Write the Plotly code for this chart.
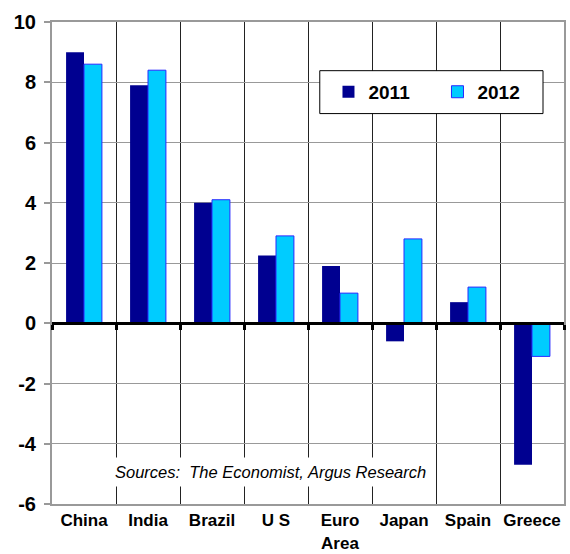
import plotly.graph_objects as go

categories = ["China", "India", "Brazil", "U S", "Euro<br>Area", "Japan", "Spain", "Greece"]
values_2011 = [9.0, 7.9, 4.0, 2.25, 1.9, -0.6, 0.7, -4.7]
values_2012 = [8.6, 8.4, 4.1, 2.9, 1.0, 2.8, 1.2, -1.1]
y_ticks = [-6, -4, -2, 0, 2, 4, 6, 8, 10]
y_tick_labels = ["-6", "-4", "-2", "0", "2", "4", "6", "8", "10"]
source_text = "<i>Sources:  The Economist, Argus Research</i>"

FONT = "Liberation Sans, Arial, Helvetica, sans-serif"

fig = go.Figure()
fig.add_trace(go.Bar(name="2011", x=categories, y=values_2011,
                     marker=dict(color="#000090", line=dict(color="#000090", width=0))))
fig.add_trace(go.Bar(name="2012", x=categories, y=values_2012,
                     marker=dict(color="#00CCFF", line=dict(color="#2828FF", width=1))))
# invisible trace to carry the zero-crossing category axis
fig.add_trace(go.Bar(x=categories, y=[0] * len(categories), xaxis="x2", showlegend=False,
                     marker=dict(color="rgba(0,0,0,0)"), hoverinfo="skip"))

fig.update_layout(
    width=570, height=554,
    margin=dict(l=52, r=6, t=22, b=50, autoexpand=False),
    paper_bgcolor="white", plot_bgcolor="white",
    barmode="group", bargap=0.44, bargroupgap=0,
    font=dict(family=FONT, color="black"),
    showlegend=True,
    legend=dict(orientation="h", x=0.54, y=0.855, xanchor="left", yanchor="middle",
                bgcolor="rgba(0,0,0,0)", borderwidth=0, entrywidth=64, entrywidthmode="pixels",
                font=dict(size=19, family=FONT, color="black", weight="bold"), itemwidth=30),
    xaxis=dict(type="category", tickson="boundaries", showgrid=True, gridcolor="#222222", gridwidth=1,
               ticks="", showline=True, linecolor="#999999", linewidth=2, mirror=True, tickangle=0,
               ticklabelstandoff=0,
               tickfont=dict(size=17, family=FONT, color="black", weight="bold"),
               zeroline=False),
    xaxis2=dict(type="category", overlaying="x", matches="x", anchor="free", position=0.375,
                tickson="boundaries", showgrid=False, showticklabels=False, ticks="outside",
                ticklen=5, tickwidth=3, tickcolor="black", showline=True, linecolor="black", linewidth=3),
    yaxis=dict(range=[-6, 10], tickvals=y_ticks, ticktext=y_tick_labels,
               showgrid=True, gridcolor="#999999", gridwidth=1.2,
               zeroline=True, zerolinecolor="black", zerolinewidth=3,
               showline=True, linecolor="#999999", linewidth=2, mirror=True,
               ticks="outside", ticklen=6, tickcolor="#999999", tickwidth=2,
               ticklabelstandoff=4,
               tickfont=dict(size=20, family=FONT, color="black", weight="bold")),
    shapes=[dict(type="rect", xref="paper", yref="paper", x0=0.523, x1=0.959, y0=0.810, y1=0.899,
                 fillcolor="white", line=dict(color="black", width=1), layer="above")],
    annotations=[dict(text=source_text, xref="paper", yref="y", x=0.426, y=-4.95,
                      showarrow=False, bgcolor="white", borderpad=5,
                      font=dict(size=16.5, family=FONT, color="black"))],
)

fig.write_html("out.html")
